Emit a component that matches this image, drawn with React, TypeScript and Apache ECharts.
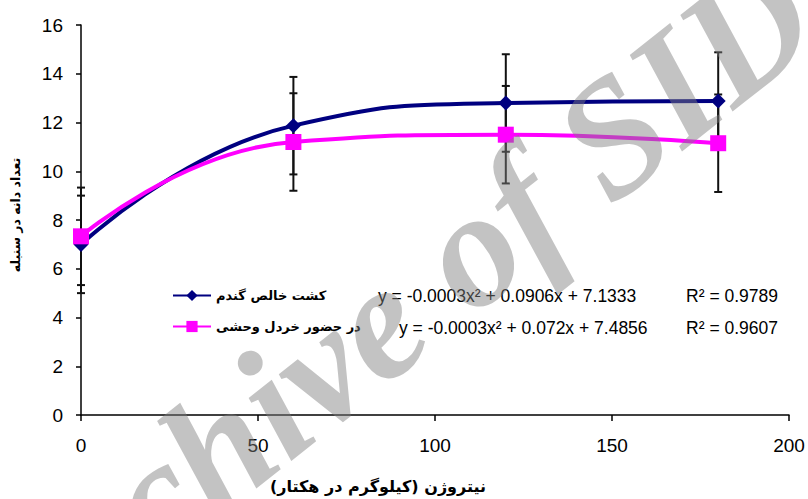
import React, { useEffect, useRef } from "react";
import * as echarts from "echarts";

const nitrogen = [0, 60, 120, 180];
const pureWheat = [7.0, 11.87, 12.8, 12.88];
const withWeed = [7.33, 11.2, 11.5, 11.15];
const pureWheatErr = [2, 2, 2, 2];
const withWeedErr = [2, 2, 2, 2];
const seriesNames = ["کشت خالص گندم", "در حضور خردل وحشی"];
const equations = ["y = -0.0003x² + 0.0906x + 7.1333", "y = -0.0003x² + 0.072x + 7.4856"];
const rSquared = ["R² = 0.9789", "R² = 0.9607"];
const yAxisTitle = "تعداد دانه در سنبله";
const xAxisTitle = "\u200Fنیتروژن (کیلوگرم در هکتار)\u200F";
const watermark = "Archive of SID";

const BLUE = "#000080";
const PINK = "#FF00FF";
const TICK_FONT = "Liberation Sans";
const FA_FONT = "DejaVu Sans";

function errorRender(params: any, api: any) {
  const x = api.value(0);
  const y = api.value(1);
  const e = api.value(2);
  const hi = api.coord([x, y + e]);
  const lo = api.coord([x, y - e]);
  const w = 4;
  const style = { stroke: "#111", lineWidth: 2 };
  return {
    type: "group",
    children: [
      { type: "line", shape: { x1: hi[0], y1: hi[1], x2: lo[0], y2: lo[1] }, style },
      { type: "line", shape: { x1: hi[0] - w, y1: hi[1], x2: hi[0] + w, y2: hi[1] }, style },
      { type: "line", shape: { x1: lo[0] - w, y1: lo[1], x2: lo[0] + w, y2: lo[1] }, style },
    ],
  };
}

export default function App() {
  const ref = useRef<HTMLDivElement>(null);
  useEffect(() => {
    if (!ref.current) return;
    const chart = echarts.init(ref.current, null, { renderer: "svg" });
    const eqFont = `17.5px "${TICK_FONT}"`;
    const option: any = {
      animation: false,
      backgroundColor: "#ffffff",
      grid: { left: 81, right: 19, top: 25, bottom: 84, containLabel: false, outerBoundsMode: "none" },
      legend: {
        data: seriesNames,
        orient: "vertical",
        left: 172,
        top: 289,
        padding: 0,
        itemWidth: 38,
        itemHeight: 14,
        itemGap: 18,
        textStyle: { fontFamily: FA_FONT, fontSize: 13, fontWeight: "bold", color: "#000" },
      },
      xAxis: {
        type: "value",
        min: 0,
        max: 200,
        interval: 50,
        axisLine: { lineStyle: { color: "#000", width: 1.5 } },
        axisTick: { show: true, inside: false, length: 6, lineStyle: { color: "#000", width: 1.5 } },
        axisLabel: { fontFamily: TICK_FONT, fontSize: 19, color: "#000", margin: 21 },
        splitLine: { show: false },
      },
      yAxis: {
        type: "value",
        min: 0,
        max: 16,
        interval: 2,
        axisLine: { show: true, lineStyle: { color: "#000", width: 1.5 } },
        axisTick: { show: true, inside: false, length: 5, lineStyle: { color: "#000", width: 1.5 } },
        axisLabel: { fontFamily: TICK_FONT, fontSize: 19, color: "#000", margin: 18 },
        splitLine: { show: false },
      },
      series: [
        {
          type: "custom",
          name: "err1",
          renderItem: errorRender,
          data: nitrogen.map((x, i) => [x, pureWheat[i], pureWheatErr[i]]),
          encode: { x: 0, y: 1 },
          z: 1,
          silent: true,
        },
        {
          type: "custom",
          name: "err2",
          renderItem: errorRender,
          data: nitrogen.map((x, i) => [x, withWeed[i], withWeedErr[i]]),
          encode: { x: 0, y: 1 },
          z: 1,
          silent: true,
        },
        {
          type: "line",
          name: seriesNames[0],
          data: nitrogen.map((x, i) => [x, pureWheat[i]]),
          smooth: 0.5,
          symbol: "diamond",
          symbolSize: 15,
          lineStyle: { color: BLUE, width: 4 },
          itemStyle: { color: BLUE },
          z: 3,
        },
        {
          type: "line",
          name: seriesNames[1],
          data: nitrogen.map((x, i) => [x, withWeed[i]]),
          smooth: 0.5,
          symbol: "rect",
          symbolSize: 16,
          lineStyle: { color: PINK, width: 4 },
          itemStyle: { color: PINK },
          z: 4,
        },
      ],
      graphic: [
        {
          type: "text",
          x: 378,
          y: 296,
          style: { text: equations[0], font: eqFont, fill: "#000", verticalAlign: "middle" },
        },
        {
          type: "text",
          x: 778,
          y: 296,
          style: { text: rSquared[0], font: eqFont, fill: "#000", align: "right", verticalAlign: "middle" },
        },
        {
          type: "text",
          x: 399,
          y: 328,
          style: { text: equations[1], font: eqFont, fill: "#000", verticalAlign: "middle" },
        },
        {
          type: "text",
          x: 778,
          y: 328,
          style: { text: rSquared[1], font: eqFont, fill: "#000", align: "right", verticalAlign: "middle" },
        },
        {
          type: "text",
          x: 15,
          y: 215,
          rotation: Math.PI / 2,
          style: {
            text: yAxisTitle,
            font: `bold 12.5px "${FA_FONT}"`,
            fill: "#000",
            align: "center",
            verticalAlign: "middle",
          },
        },
        {
          type: "text",
          x: 378,
          y: 486,
          style: {
            text: xAxisTitle,
            font: `bold 16px "${FA_FONT}"`,
            fill: "#000",
            align: "center",
            verticalAlign: "middle",
          },
        },
        {
          type: "text",
          x: 390,
          y: 312,
          rotation: 0.67,
          z: 100,
          silent: true,
          style: {
            text: watermark,
            font: `italic bold 165px "Liberation Serif"`,
            fill: "rgba(128,128,128,0.47)",
            align: "center",
            verticalAlign: "middle",
          },
        },
      ],
    };
    chart.setOption(option);
    return () => chart.dispose();
  }, []);
  return (
    <div
      ref={ref}
      style={{ position: "fixed", left: 0, top: 0, width: 808, height: 499, background: "#fff" }}
    />
  );
}
